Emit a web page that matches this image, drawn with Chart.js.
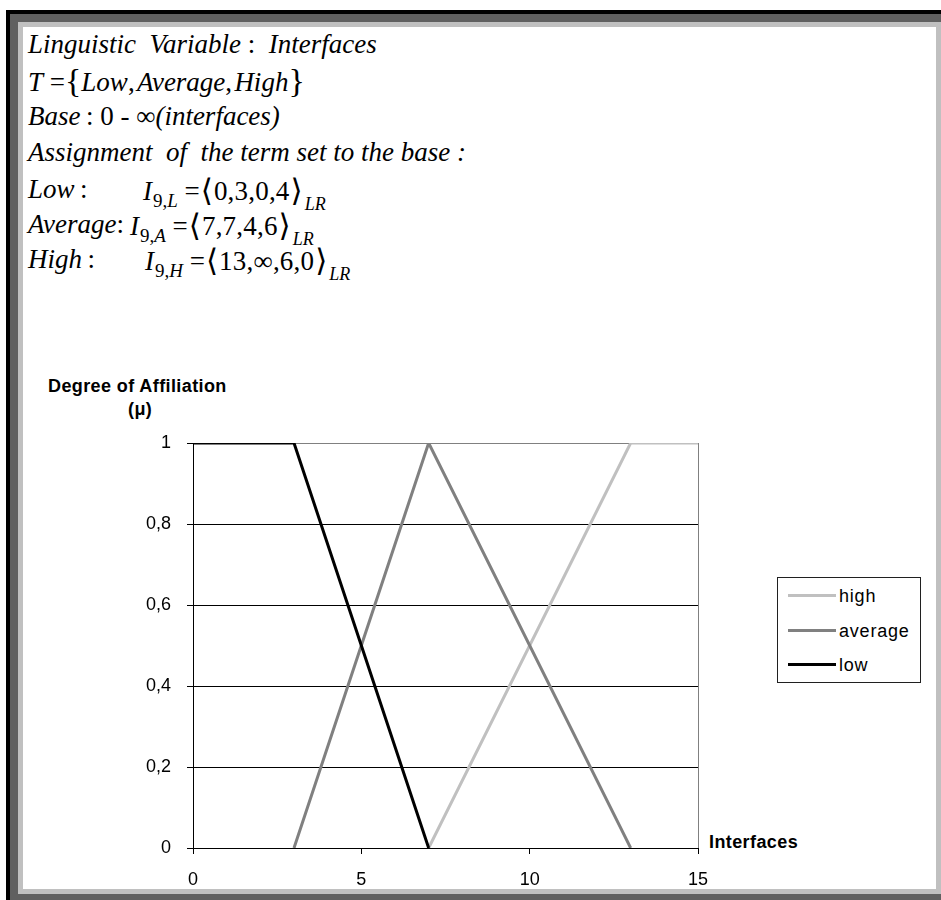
<!DOCTYPE html>
<html>
<head>
<meta charset="utf-8">
<script src="https://cdn.jsdelivr.net/npm/chart.js@4/dist/chart.umd.min.js"></script>
<style>
  html, body { margin: 0; padding: 0; background: #fff; }
  #page { position: relative; width: 941px; height: 900px; overflow: hidden; background: #fff; }
  .bar { position: absolute; }
  .tx { position: absolute; font-family: 'Liberation Serif', 'Times New Roman', serif; font-size: 27px; line-height: 30px; white-space: nowrap; color: #000; }
  .tx i { font-style: italic; }
  .sub { font-size: 19px; position: relative; top: 7px; margin-left: 1px; }
  .sub2 { font-size: 18px; position: relative; top: 10px; margin-left: 1px; }
  .ang { font-family: 'DejaVu Serif', 'DejaVu Sans', serif; font-size: 31px; font-weight: 200; position: relative; top: 1px; margin: 0 1px; }
  .brace { font-size: 34px; position: relative; top: 1px; }
  .num { letter-spacing: 0.2px; }
  .lbl { position: absolute; font-family: 'Liberation Sans', Arial, sans-serif; font-weight: bold; font-size: 18px; letter-spacing: 0.4px; color: #000; white-space: nowrap; line-height: 20px; }
  #chart { position: absolute; left: 0; top: 0; }
  #legend { position: absolute; left: 777px; top: 577px; width: 142px; height: 104px; border: 1px solid #202020; background: #fff; }
  .lg { position: absolute; left: 0; height: 22px; font-family: 'Liberation Sans', Arial, sans-serif; font-size: 18px; letter-spacing: 0.8px; line-height: 22px; white-space: nowrap; }
  .lg span.sw { position: absolute; left: 10px; top: 9px; width: 48px; height: 3px; }
  .lg span.t { position: absolute; left: 61px; top: 0; }
</style>
</head>
<body>
<div id="page">
  <!-- window frame -->
  <div class="bar" style="left:6px;top:10px;width:935px;height:890px;background:#000"></div>
  <div class="bar" style="left:10px;top:14px;width:931px;height:886px;background:#606060"></div>
  <div class="bar" style="left:18px;top:22px;width:923px;height:872px;background:#c0c0c0"></div>
  <div class="bar" style="left:23px;top:27px;width:913px;height:862px;background:#fff"></div>

  <!-- definition of the linguistic variable -->
  <div class="tx" style="left:28px;top:29px"><i>Linguistic&nbsp; Variable</i> : &nbsp;<i>Interfaces</i></div>
  <div class="tx" style="left:28px;top:65px"><i>T</i> =<span class="brace">{</span><i>Low</i>,&#8202;<i>Average</i>,&#8202;<i>High</i><span class="brace">}</span></div>
  <div class="tx" style="left:28px;top:101px"><i>Base</i>&#8201;: 0 - ∞<i>(interfaces)</i></div>
  <div class="tx" style="left:28px;top:137px"><i>Assignment&nbsp; of&nbsp; the term set to the base :</i></div>

  <div class="tx" style="left:28px;top:174px"><i>Low</i>&#8201;:</div>
  <div class="tx" style="left:143px;top:174px"><i>I</i><span class="sub">9,<i>L</i></span> =<span class="ang">⟨</span><span class="num">0,3,0,4</span><span class="ang">⟩</span><span class="sub2"><i>LR</i></span></div>
  <div class="tx" style="left:28px;top:209px"><i>Average</i>:</div>
  <div class="tx" style="left:130px;top:209px"><i>I</i><span class="sub">9,<i>A</i></span> =<span class="ang">⟨</span><span class="num">7,7,4,6</span><span class="ang">⟩</span><span class="sub2"><i>LR</i></span></div>
  <div class="tx" style="left:28px;top:244px"><i>High</i>&#8201;:</div>
  <div class="tx" style="left:145px;top:244px"><i>I</i><span class="sub">9,<i>H</i></span> =<span class="ang">⟨</span><span class="num">13,∞,6,0</span><span class="ang">⟩</span><span class="sub2"><i>LR</i></span></div>

  <!-- axis titles -->
  <div class="lbl" style="left:48px;top:376px">Degree of Affiliation</div>
  <div class="lbl" style="left:128px;top:399px">(μ)</div>
  <div class="lbl" style="left:709px;top:832px">Interfaces</div>

  <canvas id="chart" width="941" height="900"></canvas>
  <div id="legend"></div>
</div>

<script>
// membership functions of the terms: break points (interfaces, degree)
const lowX = [0, 3, 7];
const lowY = [1, 1, 0];
const averageX = [3, 7, 13];
const averageY = [0, 1, 0];
const highX = [7, 13, 15];
const highY = [0, 1, 1];

const seriesNames = ['low', 'average', 'high'];
const seriesColors = ['#000000', '#808080', '#c0c0c0'];

const xTicks = [0, 5, 10, 15];
const yTicks = [0, 0.2, 0.4, 0.6, 0.8, 1];

function points(xs, ys) {
  return xs.map((x, i) => ({ x: x, y: ys[i] }));
}

const series = [points(lowX, lowY), points(averageX, averageY), points(highX, highY)];

const datasets = series.map((d, i) => ({
  label: seriesNames[i],
  data: d,
  showLine: true,
  borderColor: seriesColors[i],
  backgroundColor: seriesColors[i],
  borderWidth: 3,
  pointRadius: 0,
  tension: 0,
  fill: false
}));

const tickFont = { family: "'Liberation Sans', Arial, sans-serif", size: 18 };

const chart = new Chart(document.getElementById('chart'), {
  type: 'scatter',
  data: { datasets: datasets },
  options: {
    responsive: false,
    animation: false,
    events: [],
    layout: { padding: { left: 100, top: 443, right: 243, bottom: 0 } },
    plugins: { legend: { display: false }, tooltip: { enabled: false } },
    scales: {
      x: {
        type: 'linear',
        min: 0, max: 15,
        afterFit: (s) => { s.height = 52; },
        afterBuildTicks: (s) => { s.ticks = xTicks.map(v => ({ value: v })); },
        ticks: { color: '#000', font: tickFont, padding: 15, maxRotation: 0 },
        grid: {
          color: (c) => (c.tick && c.tick.value === 15 ? '#808080' : 'rgba(0,0,0,0)'),
          tickColor: '#000',
          tickLength: 6,
          lineWidth: 1
        },
        border: { color: '#000', width: 1 }
      },
      y: {
        type: 'linear',
        min: 0, max: 1,
        afterFit: (s) => { s.width = 93; },
        afterBuildTicks: (s) => { s.ticks = yTicks.map(v => ({ value: v })); },
        ticks: {
          color: '#000', font: tickFont, padding: 16,
          callback: (v) => (v === 0 || v === 1 ? String(v) : v.toFixed(1).replace('.', ','))
        },
        grid: {
          color: (c) => (c.tick && c.tick.value === 1 ? '#808080' : '#000'),
          tickColor: '#000',
          tickLength: 6,
          lineWidth: 1
        },
        border: { color: '#000', width: 1 }
      }
    }
  }
});

// legend box, listed from the top term down
const legendEl = document.getElementById('legend');
const legendTops = [7, 42, 76];
chart.data.datasets.slice().reverse().forEach((ds, i) => {
  const row = document.createElement('div');
  row.className = 'lg';
  row.style.top = legendTops[i] + 'px';
  const sw = document.createElement('span');
  sw.className = 'sw';
  sw.style.background = ds.borderColor;
  const t = document.createElement('span');
  t.className = 't';
  t.textContent = ds.label;
  row.appendChild(sw);
  row.appendChild(t);
  legendEl.appendChild(row);
});
</script>
</body>
</html>
